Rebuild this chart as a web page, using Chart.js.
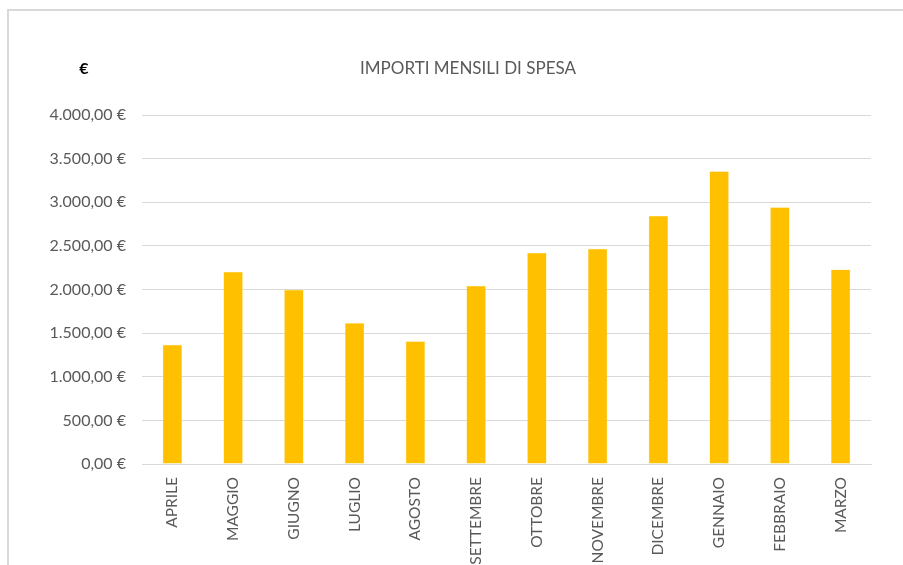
<!DOCTYPE html>
<html lang="it">
<head>
<meta charset="utf-8">
<title>Importi mensili di spesa</title>
<script src="https://cdn.jsdelivr.net/npm/chart.js@4"></script>
<style>
  html, body { margin: 0; padding: 0; background: #fff; overflow: hidden; }
  #frame {
    position: absolute; left: 7px; top: 9px;
    width: 1000px; height: 700px;
    border: 2px solid #d9d9d9;
  }
  #spesaChart { position: absolute; left: 0; top: 0; }
</style>
</head>
<body>
<div id="frame"></div>
<canvas id="spesaChart" width="903" height="565"></canvas>
<script>
// mesi dell'anno contabile (aprile -> marzo)
const mesi = ['APRILE', 'MAGGIO', 'GIUGNO', 'LUGLIO', 'AGOSTO', 'SETTEMBRE',
              'OTTOBRE', 'NOVEMBRE', 'DICEMBRE', 'GENNAIO', 'FEBBRAIO', 'MARZO'];
// importi spesi per mese, in euro
const importi = [1366, 2204, 1997, 1615, 1408, 2043,
                 2422, 2468, 2846, 3355, 2942, 2230];
const asseMax = 4000;
const asseStep = 500;

const TESTO = '#595959';
const FONT = 'Lato, "Open Sans", sans-serif';

// 4000 -> "4.000,00 €"
function euro(v) {
    const intero = Math.round(v).toString().replace(/\B(?=(\d{3})+(?!\d))/g, '.');
    return intero + ',00 €';
}

// titolo e simbolo € disegnati sopra l'area del grafico
const intestazione = {
    id: 'intestazione',
    afterDraw(chart) {
        const c = chart.ctx;
        c.save();
        c.fillStyle = TESTO;
        c.textBaseline = 'middle';
        c.textAlign = 'center';
        c.font = '17px ' + FONT;
        c.fillText('IMPORTI MENSILI DI SPESA', 468, 69);
        c.fillStyle = '#000';
        c.font = 'bold 16px ' + FONT;
        c.fillText('€', 84, 69);
        c.restore();
    }
};

new Chart(document.getElementById('spesaChart'), {
    type: 'bar',
    data: {
        labels: mesi,
        datasets: [{
            data: importi,
            backgroundColor: '#FFC000',
            borderColor: '#FFE08A',
            borderWidth: 0.5,
            categoryPercentage: 1,
            barPercentage: 0.32
        }]
    },
    options: {
        responsive: false,
        animation: false,
        layout: { padding: { left: 0, right: 32, top: 115, bottom: 0 } },
        plugins: {
            legend: { display: false },
            tooltip: { enabled: false }
        },
        scales: {
            y: {
                min: 0, max: asseMax,
                afterFit: s => { s.width = 142; },
                border: { display: false },
                grid: { color: '#d9d9d9', lineWidth: 1, drawTicks: false },
                ticks: {
                    stepSize: asseStep,
                    padding: 16,
                    color: TESTO,
                    font: { family: FONT, size: 16 },
                    callback: v => euro(v)
                }
            },
            x: {
                afterFit: s => { s.height = 101; },
                border: { display: true, color: '#d9d9d9', width: 1 },
                grid: { display: false },
                ticks: {
                    minRotation: 90, maxRotation: 90,
                    autoSkip: false,
                    padding: 5,
                    color: TESTO,
                    font: { family: FONT, size: 15.5 }
                }
            }
        }
    },
    plugins: [intestazione]
});
</script>
</body>
</html>
